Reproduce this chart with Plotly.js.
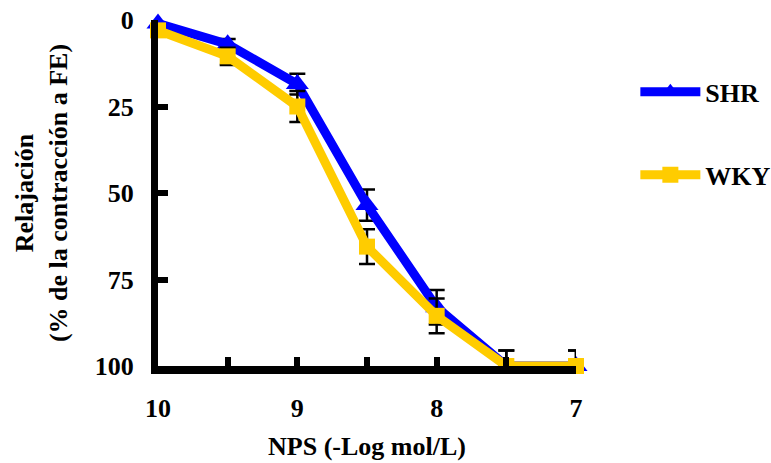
<!DOCTYPE html>
<html>
<head>
<meta charset="utf-8">
<script src="https://cdn.plot.ly/plotly-3.0.1.min.js"></script>
<style>html,body{margin:0;padding:0;background:#fff;}#chart{width:771px;height:463px;}</style>
</head>
<body>
<div id="chart"></div>
<script>
const concentrations = [10, 9.5, 9, 8.5, 8, 7.5, 7];
const shrValues = [1, 7, 18.5, 53.5, 83, 100, 100];
const shrErrUp = [1.5, 1.5, 3, 4.5, 5, 4.5, 4.5];
const shrErrDown = [1.5, 1.5, 3, 4.5, 5, 0, 0];
const wkyValues = [3, 10.5, 25, 65.5, 85.5, 100, 100];
const wkyErrUp = [1, 2.5, 4.5, 5, 5, 4.5, 4.5];
const wkyErrDown = [1, 2.5, 4.5, 5, 5, 0, 0];
const xTickVals = [10, 9.5, 9, 8.5, 8, 7.5, 7];
const xTickText = ['10', '', '9', '', '8', '', '7'];
const yTickVals = [0, 25, 50, 75, 100];

const fam = '"Liberation Serif", "Times New Roman", serif';

const traces = [
  {
    x: concentrations, y: shrValues, name: '<b>SHR</b>', type: 'scatter', mode: 'lines+markers',
    line: {color: '#0000FF', width: 9},
    marker: {symbol: 'triangle-up', size: 20, color: '#0000FF'},
    error_y: {type: 'data', symmetric: false, array: shrErrDown, arrayminus: shrErrUp, color: '#000', thickness: 2.5, width: 8},
    cliponaxis: false, legendgroup: 'a'
  },
  {
    x: concentrations, y: wkyValues, name: '<b>WKY</b>', type: 'scatter', mode: 'lines+markers',
    line: {color: '#FFCC00', width: 9},
    marker: {symbol: 'square', size: 16, color: '#FFCC00'},
    error_y: {type: 'data', symmetric: false, array: wkyErrDown, arrayminus: wkyErrUp, color: '#000', thickness: 2.5, width: 8},
    cliponaxis: false, legendgroup: 'b'
  }
];

const layout = {
  width: 771, height: 463,
  margin: {l: 158, r: 195, t: 20, b: 97, autoexpand: false},
  paper_bgcolor: '#fff', plot_bgcolor: '#fff',
  font: {family: fam, color: '#000', size: 26},
  showlegend: true,
  legend: {x: 1.142, y: 0.86, xanchor: 'left', yanchor: 'top', font: {family: fam, size: 26, color: '#000'},
           tracegroupgap: 46, itemwidth: 60, bgcolor: 'rgba(0,0,0,0)'},
  xaxis: {
    range: [10, 7], tickvals: xTickVals, ticktext: xTickText,
    ticks: 'inside', ticklen: 9, tickwidth: 6, tickcolor: '#000',
    showline: true, linecolor: '#000', linewidth: 8, showgrid: false, zeroline: false,
    tickfont: {family: fam, size: 26, color: '#000', weight: 'bold'},
    ticklabelstandoff: 12,
    title: {text: '<b>NPS (-Log mol/L)</b>', font: {family: fam, size: 26, color: '#000'}, standoff: 18}
  },
  yaxis: {
    range: [100, 0], tickvals: yTickVals,
    ticks: 'inside', ticklen: 10, tickwidth: 6, tickcolor: '#000',
    showline: true, linecolor: '#000', linewidth: 7, showgrid: false, zeroline: false,
    tickfont: {family: fam, size: 26, color: '#000', weight: 'bold'},
    ticklabelstandoff: 12,
    title: {text: '<b>Relajación<br>(% de la contracción a FE)</b>', font: {family: fam, size: 26, color: '#000'}, standoff: 22}
  }
};

Plotly.newPlot('chart', traces, layout, {displayModeBar: false, staticPlot: true});
</script>
</body>
</html>
